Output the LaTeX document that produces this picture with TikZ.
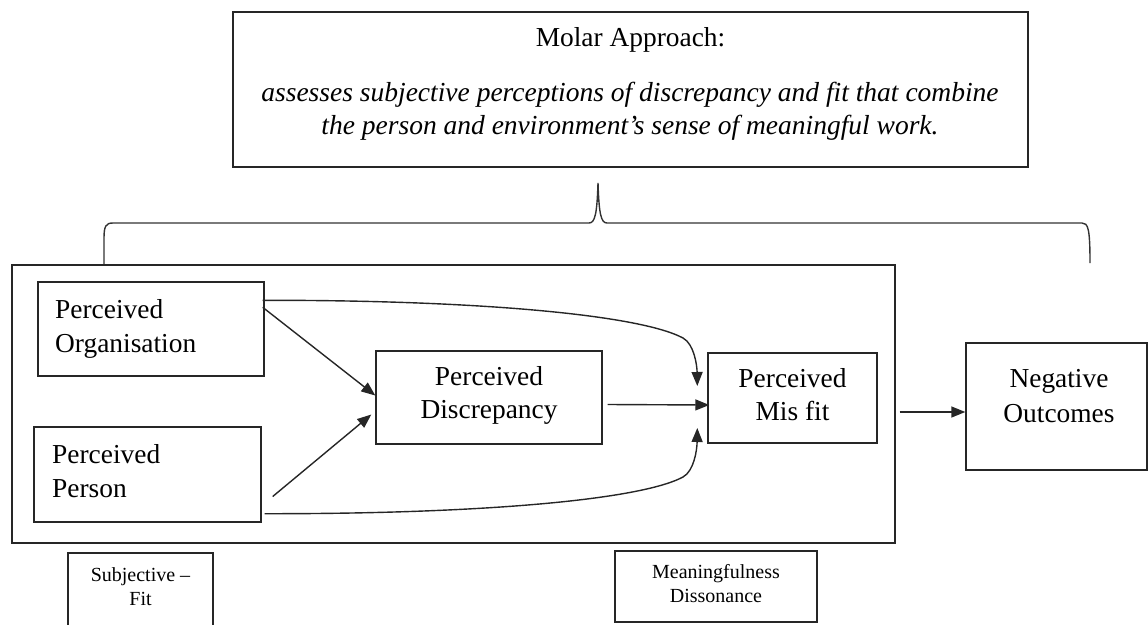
\documentclass[tikz,border=0pt]{standalone}
\usepackage{fontspec}
\setmainfont{Liberation Serif}
\usetikzlibrary{arrows.meta,calc}

\tikzset{
  frame/.style={draw=black!85, line width=1.4pt, inner sep=0pt, fill=none},
  bigtxt/.style={font=\fontsize{27.4}{34}\selectfont, inner sep=0pt},
  smalltxt/.style={font=\fontsize{20}{23}\selectfont, inner sep=0pt},
  itxt/.style={font=\fontsize{27.5}{33}\selectfont\itshape, inner sep=0pt},
  link/.style={draw=black!85, line width=1.4pt, -{Triangle[length=14pt,width=11pt]}},
  brace/.style={draw=black!80, line width=1.4pt}
}

\begin{document}
\begin{tikzpicture}[x=1pt,y=-1pt]
\useasboundingbox (0,0) rectangle (1148,624);
\clip (0,0) rectangle (1148,624);

% header box
\node[frame, minimum width=795pt, minimum height=155pt] (molar) at (630.5,89.5) {};
\node[bigtxt, anchor=base] (molarA) at (630.5,46) {Molar Approach:};
\node[itxt, anchor=base] (molarB) at (630,101) {assesses subjective perceptions of discrepancy and fit that combine};
\node[itxt, anchor=base] (molarC) at (630,134) {the person and environment’s sense of meaningful work.};

% brace under the header
\coordinate (bl) at (104,265);
\coordinate (br) at (1090,263);
\draw[brace] (bl) -- (104,238) .. controls (104,226) and (106,223) .. (113,223)
  -- (589,223) .. controls (595,223) and (597,214) .. (598,183)
  .. controls (599,214) and (601,223) .. (607,223)
  -- (1082,223) .. controls (1088,223) and (1090,228) .. (br);

% enclosing frame
\node[frame, minimum width=883pt, minimum height=278pt] (outer) at (453.5,404) {};

% construct boxes
\node[frame, minimum width=226pt, minimum height=94pt] (org) at (151,329) {};
\node[bigtxt, anchor=base west] (orgA) at (55,318) {Perceived};
\node[bigtxt, anchor=base west] (orgB) at (55,352) {Organisation};

\node[frame, minimum width=227pt, minimum height=95pt] (person) at (147.5,474.5) {};
\node[bigtxt, anchor=base west] (personA) at (52,463) {Perceived};
\node[bigtxt, anchor=base west] (personB) at (52,497) {Person};

\node[frame, minimum width=226pt, minimum height=93pt] (disc) at (489,397.5) {};
\node[bigtxt, anchor=base] (discA) at (489,385) {Perceived};
\node[bigtxt, anchor=base] (discB) at (489,418) {Discrepancy};

\node[frame, minimum width=169pt, minimum height=90pt] (misfit) at (792.5,398) {};
\node[bigtxt, anchor=base] (misfitA) at (792.5,387) {Perceived};
\node[bigtxt, anchor=base] (misfitB) at (792.5,420) {Mis fit};

\node[frame, minimum width=181pt, minimum height=127pt] (neg) at (1056.5,406.5) {};
\node[bigtxt, anchor=base] (negA) at (1059,387) {Negative};
\node[bigtxt, anchor=base] (negB) at (1059,422) {Outcomes};

% caption boxes
\node[frame, minimum width=145pt, minimum height=77pt] (subj) at (140.5,591.5) {};
\node[smalltxt, anchor=base] (subjA) at (140.5,581) {Subjective –};
\node[smalltxt, anchor=base] (subjB) at (140.5,605) {Fit};

\node[frame, minimum width=202pt, minimum height=71pt] (mean) at (716,586.5) {};
\node[smalltxt, anchor=base] (meanA) at (716,578) {Meaningfulness};
\node[smalltxt, anchor=base] (meanB) at (716,602) {Dissonance};

% paths between constructs
\draw[link] ($(org.north east)+(-2,26)$) -- ($(disc.west)+(0,-2)$);
\draw[link] ($(person.east)+(11,22)$) -- ($(disc.west)+(-4,17)$);
\draw[link] ($(disc.east)+(5,7)$) -- ($(misfit.west)+(2,7)$);
\draw[link] ($(org.north east)+(-2,19)$) .. controls (480,300) and (640,315) .. (683,338)
  .. controls (694,344) and (697,365) .. ($(misfit.west)+(-10,-12)$);
\draw[link] ($(person.south east)+(3,-9)$) .. controls (480,514) and (640,500) .. (683,477)
  .. controls (694,471) and (697,450) .. ($(misfit.west)+(-10,30)$);
\draw[link] ($(misfit.east)+(22,14)$) -- ($(neg.west)+(0,5.5)$);
\end{tikzpicture}
\end{document}
